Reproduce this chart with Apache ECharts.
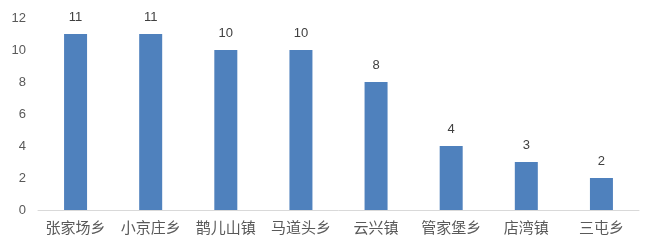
<!DOCTYPE html>
<html><head><meta charset="utf-8">
<script src="https://cdn.jsdelivr.net/npm/echarts@6/dist/echarts.min.js"></script>
<style>html,body{margin:0;padding:0;background:#fff}#c{width:657px;height:251px}</style>
</head><body><div id="c"></div>
<script>
const categories = ['张家场乡','小京庄乡','鹊儿山镇','马道头乡','云兴镇','管家堡乡','店湾镇','三屯乡'];
const values = [11,11,10,10,8,4,3,2];
const yTicks = [0,2,4,6,8,10,12];
const chart = echarts.init(document.getElementById('c'));
chart.setOption({
  animation:false,
  grid:{left:38,right:18,top:18,bottom:41},
  xAxis:{type:'category',data:categories,
    axisLine:{lineStyle:{color:'#D9D9D9',width:1}},axisTick:{show:false},
    axisLabel:{interval:0,color:'#595959',fontSize:15,margin:10,fontFamily:'Noto Sans CJK SC'}},
  yAxis:{type:'value',min:yTicks[0],max:yTicks[yTicks.length-1],interval:2,
    splitLine:{show:false},axisLine:{show:false},axisTick:{show:false},
    axisLabel:{color:'#595959',fontSize:13,margin:12,fontFamily:'Liberation Sans'}},
  series:[{type:'bar',data:values,barWidth:23,itemStyle:{color:'#4F81BD'},
    label:{show:true,position:'top',distance:10,color:'#404040',fontSize:13,fontFamily:'Liberation Sans'}}]
});
</script></body></html>
